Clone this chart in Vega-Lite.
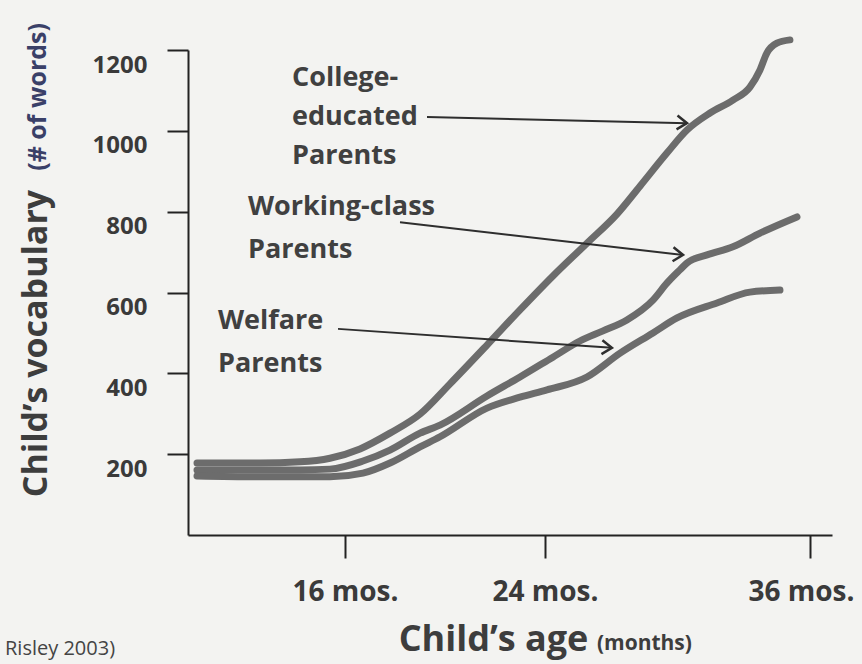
{
  "$schema": "https://vega.github.io/schema/vega-lite/v6.json",
  "width": 644,
  "height": 485,
  "autosize": {"type": "none"},
  "padding": {"left": 188, "top": 50, "right": 30, "bottom": 129},
  "background": "#f3f3f1",
  "config": {
    "view": {"stroke": null},
    "font": "Open Sans",
    "axis": {
      "domainColor": "#222222",
      "domainWidth": 2,
      "tickColor": "#222222",
      "tickWidth": 2,
      "grid": false,
      "labelFont": "Open Sans",
      "labelFontWeight": "bold",
      "labelColor": "#3a3a3a",
      "titleFont": "Open Sans",
      "titleFontWeight": "bold",
      "titleColor": "#3d3d3d"
    }
  },
  "datasets": {
    "curves": [
      {"group": "College", "month": 10.08, "words": 178},
      {"group": "College", "month": 12.6, "words": 178},
      {"group": "College", "month": 14.2, "words": 181},
      {"group": "College", "month": 15.4, "words": 190},
      {"group": "College", "month": 16.6, "words": 213},
      {"group": "College", "month": 17.8, "words": 252},
      {"group": "College", "month": 19.0, "words": 299},
      {"group": "College", "month": 20.2, "words": 374},
      {"group": "College", "month": 21.68, "words": 470},
      {"group": "College", "month": 23.0, "words": 557},
      {"group": "College", "month": 24.36, "words": 641},
      {"group": "College", "month": 25.9, "words": 722},
      {"group": "College", "month": 27.26, "words": 794},
      {"group": "College", "month": 28.3, "words": 863},
      {"group": "College", "month": 29.52, "words": 945},
      {"group": "College", "month": 30.43, "words": 1002},
      {"group": "College", "month": 31.47, "words": 1044},
      {"group": "College", "month": 32.51, "words": 1076},
      {"group": "College", "month": 33.28, "words": 1108},
      {"group": "College", "month": 33.73, "words": 1150},
      {"group": "College", "month": 34.05, "words": 1193},
      {"group": "College", "month": 34.5, "words": 1217},
      {"group": "College", "month": 35.09, "words": 1225},
      {"group": "Working", "month": 10.08, "words": 161},
      {"group": "Working", "month": 12.6, "words": 161},
      {"group": "Working", "month": 14.2, "words": 161},
      {"group": "Working", "month": 15.4, "words": 163},
      {"group": "Working", "month": 16.72, "words": 183},
      {"group": "Working", "month": 17.8, "words": 210},
      {"group": "Working", "month": 19.0, "words": 252},
      {"group": "Working", "month": 19.8, "words": 272},
      {"group": "Working", "month": 21.68, "words": 344},
      {"group": "Working", "month": 23.0, "words": 391},
      {"group": "Working", "month": 24.36, "words": 440},
      {"group": "Working", "month": 25.58, "words": 480},
      {"group": "Working", "month": 26.63, "words": 505},
      {"group": "Working", "month": 27.71, "words": 532},
      {"group": "Working", "month": 28.89, "words": 581},
      {"group": "Working", "month": 29.52, "words": 623},
      {"group": "Working", "month": 30.11, "words": 656},
      {"group": "Working", "month": 30.43, "words": 673},
      {"group": "Working", "month": 31.34, "words": 693},
      {"group": "Working", "month": 32.51, "words": 713},
      {"group": "Working", "month": 33.74, "words": 747},
      {"group": "Working", "month": 35.41, "words": 787},
      {"group": "Welfare", "month": 10.08, "words": 146},
      {"group": "Welfare", "month": 12.6, "words": 144},
      {"group": "Welfare", "month": 14.2, "words": 144},
      {"group": "Welfare", "month": 15.4, "words": 144},
      {"group": "Welfare", "month": 16.72, "words": 153},
      {"group": "Welfare", "month": 17.8, "words": 178},
      {"group": "Welfare", "month": 19.0, "words": 218},
      {"group": "Welfare", "month": 19.8, "words": 243},
      {"group": "Welfare", "month": 21.68, "words": 314},
      {"group": "Welfare", "month": 23.0, "words": 341},
      {"group": "Welfare", "month": 24.09, "words": 359},
      {"group": "Welfare", "month": 25.9, "words": 391},
      {"group": "Welfare", "month": 27.4, "words": 450},
      {"group": "Welfare", "month": 28.89, "words": 500},
      {"group": "Welfare", "month": 29.98, "words": 537},
      {"group": "Welfare", "month": 31.79, "words": 574},
      {"group": "Welfare", "month": 33.28, "words": 601},
      {"group": "Welfare", "month": 34.64, "words": 606}
    ],
    "arrows": [
      {"month": 19.28, "words": 1034, "month2": 30.43, "words2": 1019},
      {"month": 18.2, "words": 774, "month2": 30.25, "words2": 693},
      {"month": 15.72, "words": 510, "month2": 27.03, "words2": 463}
    ],
    "notes": [
      {"kind": "curve", "text": "College-", "month": 13.88, "words": 1111},
      {"kind": "curve", "text": "educated", "month": 13.88, "words": 1014},
      {"kind": "curve", "text": "Parents", "month": 13.88, "words": 918},
      {"kind": "curve", "text": "Working-class", "month": 12.12, "words": 792},
      {"kind": "curve", "text": "Parents", "month": 12.12, "words": 685},
      {"kind": "curve", "text": "Welfare", "month": 10.92, "words": 510},
      {"kind": "curve", "text": "Parents", "month": 10.92, "words": 403},
      {"kind": "xunit", "text": "(months)", "month": 26.35, "words": -284},
      {"kind": "yunit", "text": "(# of words)", "month": 4.04, "words": 1084},
      {"kind": "source", "text": "Risley 2003)", "month": 2.4, "words": -297}
    ]
  },
  "layer": [
    {
      "data": {"name": "curves"},
      "mark": {"type": "line", "interpolate": "monotone", "strokeWidth": 7, "color": "#6c6c6c", "strokeCap": "round", "strokeJoin": "round"},
      "encoding": {
        "x": {
          "field": "month", "type": "quantitative", "title": "Child’s age",
          "scale": {"domain": [9.72, 16, 24, 36, 37], "range": [0, 157, 357, 622, 644], "nice": false, "zero": false},
          "axis": {
            "values": [16, 24, 36],
            "labelExpr": "datum.value + ' mos.'",
            "labelFontSize": 28,
            "tickSize": 23,
            "labelPadding": 20,
            "labelBaseline": "top",
            "labelOffset": {"condition": {"test": "datum.value === 36", "value": -9}, "value": 0},
            "titleFontSize": 36,
            "titleX": 305,
            "titleY": 115,
            "titleAlign": "center",
            "titleBaseline": "alphabetic"
          }
        },
        "y": {
          "field": "words", "type": "quantitative", "title": "Child’s vocabulary",
          "scale": {"domain": [0, 1200], "nice": false},
          "axis": {
            "values": [200, 400, 600, 800, 1000, 1200],
            "format": "d",
            "labelFontSize": 24,
            "tickSize": 21,
            "labelPadding": 20,
            "labelBaseline": "top",
            "labelOffset": 3,
            "titleFontSize": 34,
            "titleAngle": 270,
            "titleX": -142,
            "titleY": 293,
            "titleAlign": "center",
            "titleBaseline": "alphabetic"
          }
        },
        "detail": {"field": "group"}
      }
    },
    {
      "data": {"name": "arrows"},
      "mark": {"type": "rule", "strokeWidth": 2, "color": "#2e2e2e"},
      "encoding": {
        "x": {"field": "month", "type": "quantitative", "title": "Child’s age"},
        "y": {"field": "words", "type": "quantitative", "title": "Child’s vocabulary"},
        "x2": {"field": "month2", "title": "Child’s age"},
        "y2": {"field": "words2", "title": "Child’s vocabulary"}
      }
    },
    {
      "data": {"name": "arrows"},
      "mark": {"type": "point", "shape": "M-1,-0.7L0,0L-1,0.7", "size": 400, "filled": false, "strokeWidth": 2.5, "color": "#2e2e2e", "opacity": 1, "angle": 4},
      "encoding": {
        "x": {"field": "month2", "type": "quantitative", "title": "Child’s age"},
        "y": {"field": "words2", "type": "quantitative", "title": "Child’s vocabulary"}
      }
    },
    {
      "data": {"name": "notes"},
      "transform": [{"filter": "datum.kind === 'curve'"}],
      "mark": {"type": "text", "align": "left", "baseline": "alphabetic", "font": "Open Sans", "fontWeight": "bold", "fontSize": 27, "color": "#404040"},
      "encoding": {
        "x": {"field": "month", "type": "quantitative", "title": "Child’s age"},
        "y": {"field": "words", "type": "quantitative", "title": "Child’s vocabulary"},
        "text": {"field": "text"}
      }
    },
    {
      "data": {"name": "notes"},
      "transform": [{"filter": "datum.kind === 'xunit'"}],
      "mark": {"type": "text", "align": "left", "baseline": "alphabetic", "font": "Open Sans", "fontWeight": "bold", "fontSize": 21, "color": "#3d3d3d"},
      "encoding": {
        "x": {"field": "month", "type": "quantitative", "title": "Child’s age"},
        "y": {"field": "words", "type": "quantitative", "title": "Child’s vocabulary"},
        "text": {"field": "text"}
      }
    },
    {
      "data": {"name": "notes"},
      "transform": [{"filter": "datum.kind === 'yunit'"}],
      "mark": {"type": "text", "align": "center", "baseline": "alphabetic", "angle": 270, "font": "Open Sans", "fontWeight": "bold", "fontSize": 25, "color": "#3a4068"},
      "encoding": {
        "x": {"field": "month", "type": "quantitative", "title": "Child’s age"},
        "y": {"field": "words", "type": "quantitative", "title": "Child’s vocabulary"},
        "text": {"field": "text"}
      }
    },
    {
      "data": {"name": "notes"},
      "transform": [{"filter": "datum.kind === 'source'"}],
      "mark": {"type": "text", "align": "left", "baseline": "alphabetic", "font": "Open Sans", "fontSize": 20, "color": "#444444"},
      "encoding": {
        "x": {"field": "month", "type": "quantitative", "title": "Child’s age"},
        "y": {"field": "words", "type": "quantitative", "title": "Child’s vocabulary"},
        "text": {"field": "text"}
      }
    }
  ]
}
